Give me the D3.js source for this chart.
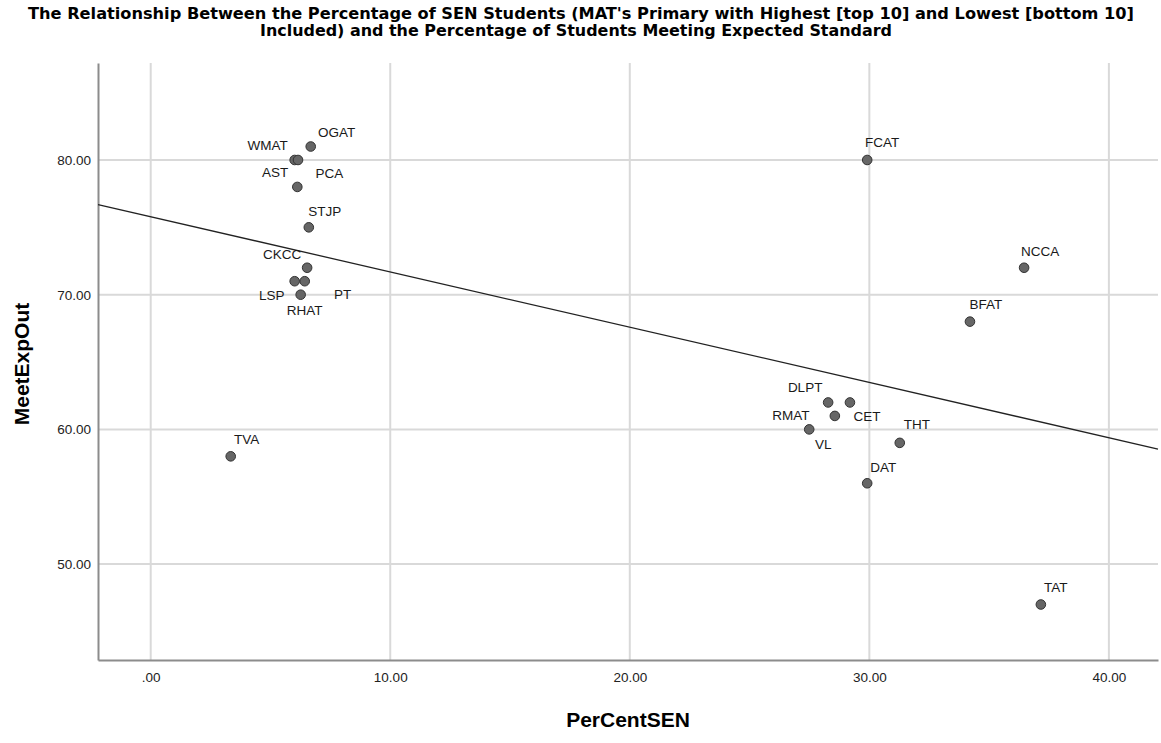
<!DOCTYPE html>
<html>
<head>
<meta charset="utf-8">
<script src="https://cdn.jsdelivr.net/npm/d3@7"></script>
<style>
  body { margin: 0; background: #fff; }
  svg { display: block; }
</style>
</head>
<body>
<svg id="chart" width="1161" height="743"></svg>
<script>
// Academy trust names
const trusts = ["TVA", "OGAT", "WMAT", "AST", "PCA", "STJP", "CKCC", "LSP", "PT", "RHAT",
                "FCAT", "NCCA", "BFAT", "DLPT", "CET", "RMAT", "VL", "THT", "DAT", "TAT"];
// Percentage of SEN students
const perCentSEN = [3.34, 6.68, 6.01, 6.15, 6.12, 6.60, 6.53, 6.01, 6.43, 6.26,
                    29.91, 36.46, 34.20, 28.28, 29.19, 28.56, 27.49, 31.27, 29.91, 37.16];
// Percentage of students meeting the expected standard
const meetExpOut = [58, 81, 80, 80, 78, 75, 72, 71, 71, 70,
                    80, 72, 68, 62, 62, 61, 60, 59, 56, 47];

const xTicks = [0, 10, 20, 30, 40];
const xTickLabels = [".00", "10.00", "20.00", "30.00", "40.00"];
const yTicks = [50, 60, 70, 80];
const yTickLabels = ["50.00", "60.00", "70.00", "80.00"];

const titleLines = [
  "The Relationship Between the Percentage of SEN Students (MAT's Primary with Highest [top 10] and Lowest [bottom 10]",
  "Included) and the Percentage of Students Meeting Expected Standard"
];
const titleWidths = [1106, 632];

// Label placement (pixel offset of label centre from its point)
const labelOffset = {
  TVA: [16, -17], OGAT: [26, -14], WMAT: [-27, -14], AST: [-23, 13], PCA: [32, -13],
  STJP: [16, -16], CKCC: [-25, -13], LSP: [-23, 14], PT: [38, 13], RHAT: [4, 16],
  FCAT: [15, -17], NCCA: [16, -16], BFAT: [16, -17], DLPT: [-23, -15], CET: [17, 14],
  RMAT: [-44, 0], VL: [14, 15], THT: [17, -18], DAT: [16, -16], TAT: [15, -17]
};

const svg = d3.select("#chart");
const plot = { left: 98, right: 1158, top: 63, bottom: 660 };

const x = d3.scaleLinear().domain([-2.2, 42.05]).range([plot.left, plot.right]);
const y = d3.scaleLinear().domain([42.88, 87.2]).range([plot.bottom, plot.top]);

const baseFont = "'Liberation Sans', Arial, sans-serif";

// Title (condensed bold, fitted to its line widths)
svg.append("g").selectAll("text").data(titleLines).join("text")
  .attr("x", (d, i) => i === 0 ? 581 : 576)
  .attr("y", (d, i) => 19 + i * 17)
  .attr("text-anchor", "middle")
  .attr("textLength", (d, i) => titleWidths[i])
  .attr("lengthAdjust", "spacingAndGlyphs")
  .style("font-family", "'Liberation Sans Narrow', 'Arial Narrow', 'DejaVu Sans Condensed', sans-serif")
  .style("font-weight", "bold")
  .style("font-size", "15px")
  .style("fill", "#000")
  .text(d => d);

// Grid lines
const grid = svg.append("g");
grid.selectAll("line.v").data(xTicks).join("line").attr("class", "v")
  .attr("x1", d => x(d)).attr("x2", d => x(d))
  .attr("y1", plot.top).attr("y2", plot.bottom)
  .attr("stroke", "#d9d9d9").attr("stroke-width", 2);
grid.selectAll("line.h").data(yTicks).join("line").attr("class", "h")
  .attr("x1", plot.left).attr("x2", plot.right)
  .attr("y1", d => y(d)).attr("y2", d => y(d))
  .attr("stroke", "#d9d9d9").attr("stroke-width", 2);

// Axes
const xAxis = d3.axisBottom(x).tickValues(xTicks).tickSize(0).tickPadding(12)
  .tickFormat((d, i) => xTickLabels[i]);
const yAxis = d3.axisLeft(y).tickValues(yTicks).tickSize(0).tickPadding(7)
  .tickFormat((d, i) => yTickLabels[i]);

const gx = svg.append("g").attr("transform", `translate(0,${plot.bottom})`).call(xAxis);
const gy = svg.append("g").attr("transform", `translate(${plot.left},0)`).call(yAxis);
[gx, gy].forEach(g => {
  g.select(".domain").attr("stroke", "#8c8c8c").attr("stroke-width", 2);
  g.selectAll("text").style("font-family", baseFont).style("font-size", "13.5px").attr("fill", "#222");
});

// Least-squares fit line
const n = perCentSEN.length;
const mx = d3.mean(perCentSEN), my = d3.mean(meetExpOut);
let sxy = 0, sxx = 0;
for (let i = 0; i < n; i++) {
  sxy += (perCentSEN[i] - mx) * (meetExpOut[i] - my);
  sxx += (perCentSEN[i] - mx) ** 2;
}
const slope = sxy / sxx, intercept = my - slope * mx;
const [x0, x1] = x.domain();
svg.append("line")
  .attr("x1", x(x0)).attr("y1", y(intercept + slope * x0))
  .attr("x2", x(x1)).attr("y2", y(intercept + slope * x1))
  .attr("stroke", "#222").attr("stroke-width", 1.3);

// Points
const pts = trusts.map((t, i) => ({ name: t, sx: perCentSEN[i], sy: meetExpOut[i] }));
svg.append("g").selectAll("circle").data(pts).join("circle")
  .attr("cx", d => x(d.sx)).attr("cy", d => y(d.sy)).attr("r", 4.8)
  .attr("fill", "#666").attr("stroke", "#333").attr("stroke-width", 1);

// Point labels
svg.append("g").selectAll("text").data(pts).join("text")
  .attr("x", d => x(d.sx) + labelOffset[d.name][0])
  .attr("y", d => y(d.sy) + labelOffset[d.name][1])
  .attr("text-anchor", "middle")
  .attr("dominant-baseline", "central")
  .style("font-family", baseFont).style("font-size", "13.5px").attr("fill", "#1a1a1a")
  .text(d => d.name);

// Axis titles
svg.append("text")
  .attr("x", 628).attr("y", 727)
  .attr("text-anchor", "middle")
  .style("font-family", baseFont).style("font-weight", "bold").style("font-size", "21px")
  .text("PerCentSEN");
svg.append("text")
  .attr("transform", "translate(29,364) rotate(-90)")
  .attr("text-anchor", "middle")
  .style("font-family", baseFont).style("font-weight", "bold").style("font-size", "21px")
  .text("MeetExpOut");
</script>
</body>
</html>
